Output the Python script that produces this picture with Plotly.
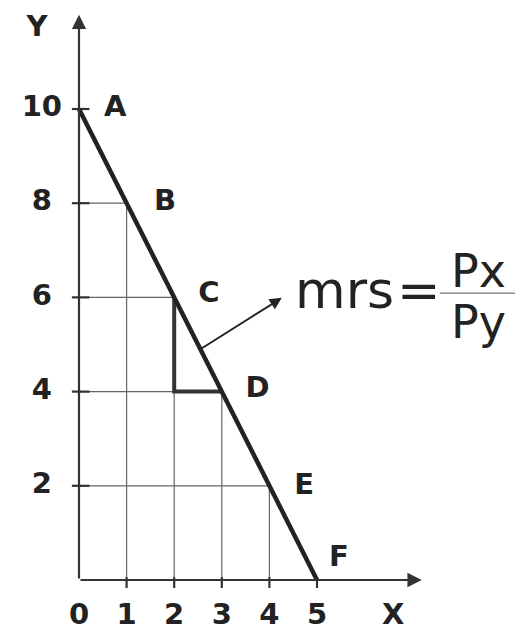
import plotly.graph_objects as go

# budget line points
xs = [0, 1, 2, 3, 4, 5]
ys = [10, 8, 6, 4, 2, 0]
point_labels = ["A", "B", "C", "D", "E", "F"]

x_ticks = [1, 2, 3, 4, 5]
x_tick_labels = ["0", "1", "2", "3", "4", "5"]
y_ticks = [2, 4, 6, 8, 10]
y_tick_labels = ["2", "4", "6", "8", "10"]

x_axis_end = 7.2
y_axis_end = 12.0

LABEL_FONT = dict(family="DejaVu Sans", size=29, color="#222")
BIG_FONT = dict(family="DejaVu Sans", size=52, color="#222")
FRAC_FONT = dict(family="DejaVu Sans", size=46, color="#222")

# page body has an 8px margin, so the origin sits at (71, 572) in figure pixels
PX_X, PX_Y = 47.6, 47.1
ORIGIN_X, ORIGIN_Y = 71, 572

fig = go.Figure()

# guide lines from each inner point to the axes
gx, gy = [], []
for x, y in zip(xs[1:-1], ys[1:-1]):
    gx += [x, x, 0, None]
    gy += [0, y, y, None]
fig.add_trace(go.Scatter(x=gx, y=gy, mode="lines", line=dict(color="#666", width=1.2)))

# tick marks
tx, ty = [], []
for t in x_ticks:
    tx += [t, t, None]
    ty += [0.06, -0.17, None]
for t in y_ticks:
    tx += [-0.15, 0.22, None]
    ty += [t, t, None]
fig.add_trace(go.Scatter(x=tx, y=ty, mode="lines", line=dict(color="#333", width=2.2)))

# triangle C -> (2,4) -> D
fig.add_trace(go.Scatter(
    x=[xs[2], xs[2], xs[3]], y=[ys[2], ys[3], ys[3]],
    mode="lines", line=dict(color="#333", width=4)
))

# budget line
fig.add_trace(go.Scatter(x=xs, y=ys, mode="lines", line=dict(color="#222", width=4.5)))

# point labels
lab_dx = [0.76, 0.81, 0.73, 0.75, 0.73, 0.46]
lab_dy = [0.0, 0.0, 0.05, 0.04, -0.03, 0.45]
fig.add_trace(go.Scatter(
    x=[x + d for x, d in zip(xs, lab_dx)],
    y=[y + d for y, d in zip(ys, lab_dy)],
    mode="text", text=["<b>%s</b>" % s for s in point_labels],
    textfont=LABEL_FONT
))

# tick labels
fig.add_trace(go.Scatter(
    x=[0] + x_ticks, y=[-0.77] * len(x_tick_labels),
    mode="text", text=["<b>%s</b>" % s for s in x_tick_labels], textfont=LABEL_FONT
))
fig.add_trace(go.Scatter(
    x=[-0.78] * len(y_ticks), y=y_ticks,
    mode="text", text=["<b>%s</b>" % s for s in y_tick_labels], textfont=LABEL_FONT
))
fig.add_trace(go.Scatter(
    x=[6.6, -0.88], y=[-0.77, 11.7],
    mode="text", text=["<b>X</b>", "<b>Y</b>"], textfont=LABEL_FONT
))

# fraction bar
fig.add_trace(go.Scatter(x=[7.58, 9.6], y=[6.09, 6.09], mode="lines", line=dict(color="#777", width=1.2)))

# axes with arrows
for ax_end in [(x_axis_end, 0), (0, y_axis_end)]:
    fig.add_annotation(
        x=ax_end[0], y=ax_end[1], ax=0, ay=0, xref="x", yref="y", axref="x", ayref="y",
        text="", showarrow=True, arrowhead=2, arrowsize=1.3, arrowwidth=2.2, arrowcolor="#333"
    )

# mrs arrow
fig.add_annotation(
    x=4.26, y=5.99, ax=2.55, ay=4.9, xref="x", yref="y", axref="x", ayref="y",
    text="", showarrow=True, arrowhead=2, arrowsize=1.2, arrowwidth=2, arrowcolor="#222"
)

fig.add_annotation(x=5.58, y=6.16, text="mrs", showarrow=False, font=BIG_FONT)
fig.add_annotation(x=7.14, y=6.16, text="=", showarrow=False, font=BIG_FONT)
fig.add_annotation(x=8.40, y=6.56, text="Px", showarrow=False, font=FRAC_FONT)
fig.add_annotation(x=8.40, y=5.48, text="Py", showarrow=False, font=FRAC_FONT)

fig.update_layout(
    width=523, height=631,
    margin=dict(l=0, r=0, t=0, b=0),
    paper_bgcolor="white", plot_bgcolor="white",
    showlegend=False,
    xaxis=dict(range=[-ORIGIN_X / PX_X, (523 - ORIGIN_X) / PX_X], visible=False, fixedrange=True),
    yaxis=dict(range=[-(631 - ORIGIN_Y) / PX_Y, ORIGIN_Y / PX_Y], visible=False, fixedrange=True),
)

fig.write_html("out.html")
